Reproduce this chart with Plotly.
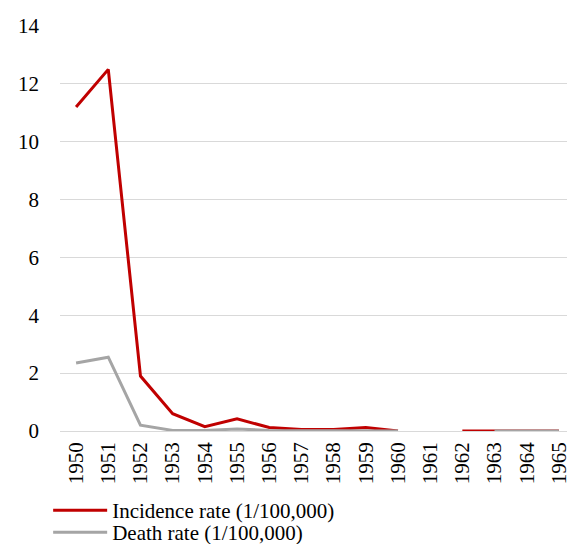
import plotly.graph_objects as go

years = [str(y) for y in range(1950, 1966)]
incidence = [11.2, 12.5, 1.9, 0.6, 0.15, 0.42, 0.12, 0.05, 0.05, 0.12, 0.0, None, 0.0, 0.0, 0.0, 0.0]
death = [2.35, 2.55, 0.2, 0.02, 0.02, 0.07, 0.02, 0.02, 0.02, 0.02, 0.0, None, None, 0.0, 0.0, 0.0]
y_ticks = [0, 2, 4, 6, 8, 10, 12, 14]

font = dict(family="Liberation Serif", size=21, color="#000000")

fig = go.Figure()
fig.add_trace(go.Scatter(x=years, y=incidence, mode="lines", name="Incidence rate (1/100,000)",
                         line=dict(color="#c00000", width=3), cliponaxis=False, connectgaps=False,
                         legend="legend"))
fig.add_trace(go.Scatter(x=years, y=death, mode="lines", name="Death rate (1/100,000)",
                         line=dict(color="#a5a5a5", width=3), cliponaxis=False, connectgaps=False,
                         legend="legend2"))

leg = dict(x=-0.023, xanchor="left", yanchor="top", orientation="v", font=font,
           bgcolor="rgba(0,0,0,0)", itemwidth=54)

fig.update_layout(
    width=567, height=536,
    margin=dict(l=52, r=0, t=18, b=113, autoexpand=False),
    paper_bgcolor="white", plot_bgcolor="white",
    font=font,
    showlegend=True,
    legend=dict(leg, y=-0.1457),
    legend2=dict(leg, y=-0.2),
    xaxis=dict(type="category", range=[-0.5, 15.5], tickangle=-90, showgrid=False,
               tickmode="array", tickvals=years, ticktext=years,
               showline=False, ticks="", tickfont=font, zeroline=False, ticklabelstandoff=6),
    yaxis=dict(range=[0, 14], tickvals=y_ticks, showgrid=True, gridcolor="#d9d9d9", gridwidth=1,
               zeroline=True, zerolinecolor="#d9d9d9", zerolinewidth=1, showline=False,
               ticks="", tickfont=font, ticklabelstandoff=20),
)

fig.write_html("out.html")
